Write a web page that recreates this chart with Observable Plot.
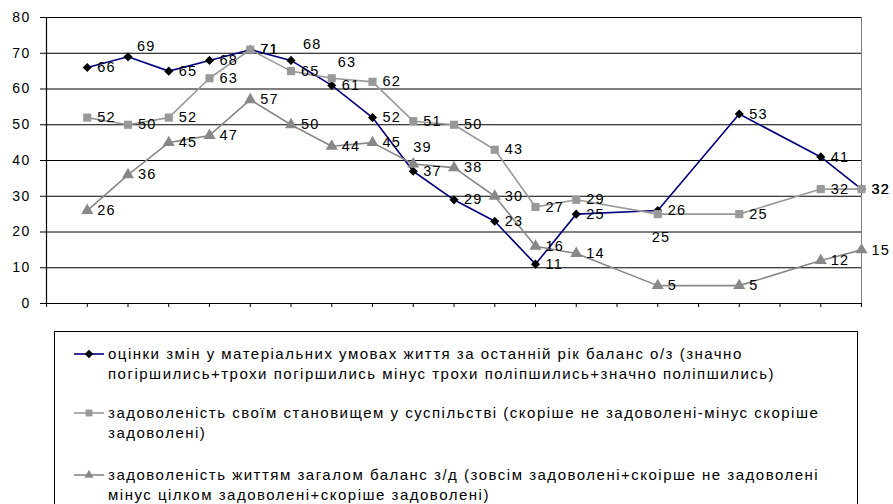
<!DOCTYPE html>
<html>
<head>
<meta charset="utf-8">
<script src="https://cdn.jsdelivr.net/npm/d3@7"></script>
<script src="https://cdn.jsdelivr.net/npm/@observablehq/plot@0.6"></script>
<style>
  body { margin: 0; background: #fff; font-family: "Liberation Sans", Arial, sans-serif; }
  #wrap { position: relative; width: 893px; height: 504px; overflow: hidden; }
  #legend { position: absolute; left: 54px; top: 331px; width: 804px; height: 220px; border: 1px solid #000; box-sizing: border-box; }
  .entry { position: absolute; left: 18px; font-size: 15px; letter-spacing: 1.5px; line-height: 19.5px; color: #000; white-space: nowrap; }
  .entry svg { position: absolute; left: 0; top: 4px; }
  .entry .txt { position: absolute; left: 35px; top: 0; }
</style>
</head>
<body>
<div id="wrap">
  <div id="chart"></div>
  <div id="legend"></div>
</div>
<script>
// ---- data ----
const positions = d3.range(1, 21);
const seriesNames = [
  "оцінки змін у матеріальних умовах життя за останній рік баланс о/з (значно\nпогіршились+трохи погіршились мінус трохи поліпшились+значно поліпшились)",
  "задоволеність своїм становищем у суспільстві (скоріше не задоволені-мінус скоріше\nзадоволені)",
  "задоволеність життям загалом баланс з/д (зовсім задоволені+скоірше не задоволені\nмінус цілком задоволені+скоріше задоволені)"
];
const material = [66, 69, 65, 68, 71, 68, 61, 52, 37, 29, 23, 11, 25, null, 26, null, 53, null, 41, 32];
const position = [52, 50, 52, 63, 71, 65, 63, 62, 51, 50, 43, 27, 29, null, 25, null, 25, null, 32, 32];
const life = [26, 36, 45, 47, 57, 50, 44, 45, 39, 38, 30, 16, 14, null, 5, null, 5, null, 12, 15];
const yTicks = [0, 10, 20, 30, 40, 50, 60, 70, 80];

// ---- styling ----
const styles = [
  {stroke: "#000080", fill: "#000000", symbol: "diamond2", r: 4.1, width: 1.6, legendShape: "symbolDiamond2", legendSize: 48},
  {stroke: "#999999", fill: "#999999", symbol: "square", r: 4.6, width: 1.6, legendShape: "symbolSquare2", legendSize: 60},
  {stroke: "#888888", fill: "#888888", symbol: "triangle", r: 4.5, width: 1.6, legendShape: "symbolTriangle2", legendSize: 60}
];
const allSeries = [material, position, life];
const rows = [];
allSeries.forEach((vals, k) => vals.forEach((v, i) => {
  if (v != null) rows.push({x: positions[i], y: v, k});
}));

// label offset exceptions: key "k-x" -> [dx, dy]
const special = {
  "0-2": [9, -10], "0-6": [12, -16], "1-7": [6, -16], "2-9": [0, -17], "1-15": [-6, 23]
};
function off(d) { return special[d.k + "-" + d.x] || [10, 0]; }
const groups = d3.groups(rows, d => off(d).join(","));

const marks = [
  Plot.gridY(yTicks.slice(1), {y: d => d, stroke: "#000", strokeOpacity: 1, strokeWidth: 1}),
  Plot.ruleX([20], {y1: 0, y2: 80, stroke: "#808080", strokeWidth: 1}),
  Plot.ruleY([0], {stroke: "#000", strokeWidth: 1.2}),
  Plot.ruleX([0], {y1: 0, y2: 80, stroke: "#000", strokeWidth: 1.2}),
  Plot.axisX(d3.range(0, 21), {tickSize: 4, tickFormat: () => "", stroke: "#000", label: null}),
  Plot.axisY(yTicks, {tickSize: 6, tickPadding: 10, fontSize: 14, fill: "#000", stroke: "#000", label: null})
];
allSeries.forEach((vals, k) => {
  const d = rows.filter(r => r.k === k);
  const s = styles[k];
  marks.push(Plot.line(d, {x: "x", y: "y", stroke: s.stroke, strokeWidth: s.width}));
  marks.push(Plot.dot(d, {x: "x", y: "y", symbol: s.symbol, r: s.r, fill: s.fill, stroke: "none"}));
});
for (const [key, g] of groups) {
  const [dx, dy] = key.split(",").map(Number);
  marks.push(Plot.text(g, {x: "x", y: "y", text: d => String(d.y), dx, dy,
    textAnchor: "start", fontSize: 14.5, fill: "#000"}));
}

const chart = Plot.plot({
  width: 893, height: 320,
  marginLeft: 46, marginRight: 32, marginTop: 17, marginBottom: 17,
  x: {domain: [0, 20], axis: null},
  y: {domain: [0, 80], axis: null},
  style: {fontFamily: "'Liberation Sans', Arial, sans-serif", letterSpacing: "1.3px", background: "#fff", overflow: "visible"},
  marks
});
document.getElementById("chart").appendChild(chart);

// ---- legend ----
const legend = document.getElementById("legend");
const tops = [12, 71, 133];
seriesNames.forEach((name, k) => {
  const s = styles[k];
  const div = document.createElement("div");
  div.className = "entry";
  div.style.top = tops[k] + "px";
  const sym = d3.create("svg").attr("width", 32).attr("height", 12);
  sym.append("line").attr("x1", 1).attr("x2", 31).attr("y1", 6).attr("y2", 6)
    .attr("stroke", s.stroke).attr("stroke-width", 1.6);
  sym.append("path").attr("d", d3.symbol(d3[s.legendShape], s.legendSize)()).attr("transform", "translate(16,6)").attr("fill", s.fill);
  div.appendChild(sym.node());
  const txt = document.createElement("div");
  txt.className = "txt";
  name.split("\n").forEach((line, j) => {
    if (j) txt.appendChild(document.createElement("br"));
    txt.appendChild(document.createTextNode(line));
  });
  div.appendChild(txt);
  legend.appendChild(div);
});
</script>
</body>
</html>
